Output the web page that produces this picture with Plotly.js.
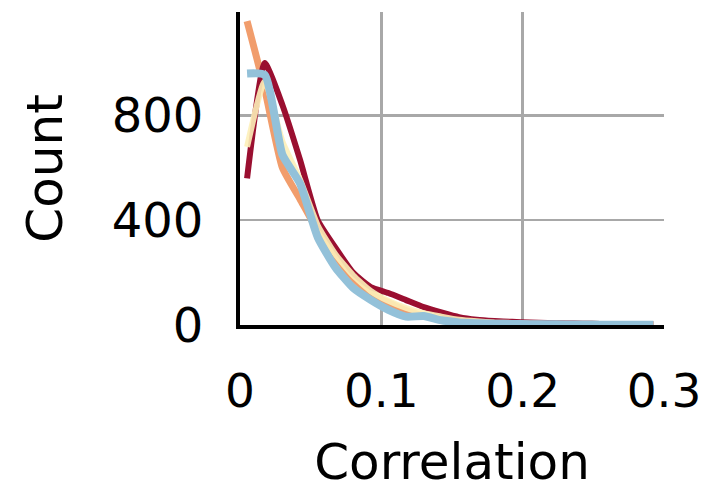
<!DOCTYPE html>
<html>
<head>
<meta charset="utf-8">
<script src="https://cdn.plot.ly/plotly-3.0.1.min.js"></script>
<style>html,body{margin:0;padding:0;background:#fff;}#chart{width:720px;height:491px;}</style>
</head>
<body>
<div id="chart"></div>
<script>
// Bin centres (correlation)
const correlation = [0.005, 0.0175, 0.03, 0.0425, 0.055, 0.0675, 0.08, 0.0925, 0.105, 0.1175, 0.13, 0.1425, 0.155, 0.1675, 0.18, 0.1925, 0.205, 0.2175, 0.23, 0.2425, 0.255, 0.2675, 0.28, 0.2925];
// Counts per series
const countsRed    = [560, 1000, 840, 630, 400, 295, 200, 145, 122, 95, 68, 48, 30, 20, 15, 12, 10, 8, 6, 5, 4, 3, 2, 2];
const countsOrange = [1160, 900, 600, 480, 360, 265, 180, 120, 85, 55, 35, 25, 15, 10, 8, 6, 5, 4, 3, 3, 2, 2, 1, 1];
const countsYellow = [680, 930, 700, 555, 380, 270, 190, 130, 92, 65, 45, 32, 20, 14, 10, 8, 6, 5, 4, 3, 3, 2, 2, 1];
const countsBlue   = [960, 955, 650, 540, 335, 220, 142, 96, 58, 32, 34, 18, 10, 7, 5, 4, 3, 3, 2, 2, 1, 1, 1, 1];
const xTicks = [0, 0.1, 0.2, 0.3];
const xTickText = ["0", "0.1", "0.2", "0.3"];
const yTicks = [0, 400, 800];
const yTickText = ["0", "400", "800"];

const series = [
  {y: countsOrange, color: "#f19d6c", width: 7},
  {y: countsRed, color: "#9a0f30", width: 6},
  {y: countsYellow, color: "rgba(253,240,185,0.9)", width: 6},
  {y: countsBlue, color: "#93c1d9", width: 8}
];
const traces = series.map(s => ({
  x: correlation, y: s.y, type: "scatter", mode: "lines",
  line: {color: s.color, width: s.width, shape: "spline", smoothing: 0.5},
  hoverinfo: "skip", showlegend: false
}));

const font = {family: "DejaVu Sans, Verdana, sans-serif", color: "#000"};
const layout = {
  width: 720, height: 491,
  margin: {l: 240, r: 56, t: 12, b: 166},
  paper_bgcolor: "#fff", plot_bgcolor: "#fff",
  showlegend: false,
  xaxis: {
    range: [0, 0.3], tickvals: xTicks, ticktext: xTickText,
    showgrid: false, zeroline: false,
    minor: {tickvals: [0.1, 0.2], showgrid: true, gridcolor: "#a8a8a8", gridwidth: 2.5, ticks: ""},
    showline: true, linecolor: "#000", linewidth: 4,
    ticks: "", ticklabelstandoff: 22,
    tickfont: Object.assign({size: 47}, font),
    title: {text: "Correlation", font: Object.assign({size: 50}, font), standoff: 34},
    automargin: false
  },
  yaxis: {
    range: [0, 1195], tickvals: yTicks, ticktext: yTickText,
    showgrid: true, gridcolor: "#a8a8a8", gridwidth: 2.5, zeroline: false,
    showline: true, linecolor: "#000", linewidth: 4,
    ticks: "", ticklabelstandoff: 23,
    tickfont: Object.assign({size: 48}, font),
    title: {text: "Count", font: Object.assign({size: 50}, font), standoff: 34},
    automargin: false
  }
};
Plotly.newPlot("chart", traces, layout, {staticPlot: true, displayModeBar: false});
</script>
</body>
</html>
